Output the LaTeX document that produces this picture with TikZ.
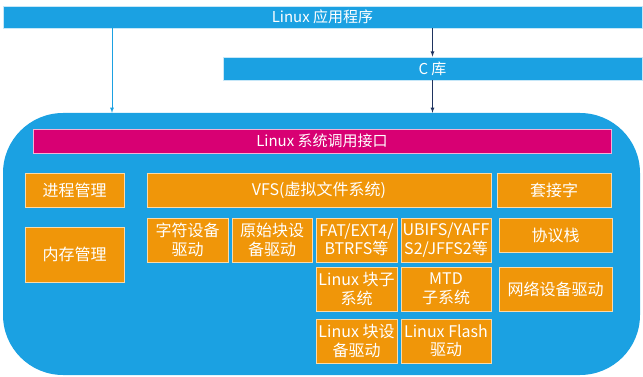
\documentclass[tikz,border=0pt]{standalone}
\usepackage{fontspec}
\setmainfont{Noto Sans CJK SC}
\usepackage{tikz}
\usetikzlibrary{arrows, positioning, calc}
\definecolor{metroblue}{RGB}{27, 161, 226}
\definecolor{syscallred}{RGB}{216, 0, 115}
\definecolor{modorange}{RGB}{240, 150, 9}
\definecolor{arrownavy}{RGB}{31, 52, 96}

\begin{document}
\begin{tikzpicture}[x=1pt, y=-1pt,
    bar/.style={rectangle, fill=metroblue, draw=white!75!metroblue, line width=0.8pt,
        inner sep=0pt, text=white, font=\fontsize{15}{17}\selectfont},
    kernelbox/.style={rectangle, fill=metroblue, rounded corners=60pt, inner sep=0pt},
    callbar/.style={rectangle, fill=syscallred, draw=white!70!syscallred, line width=0.8pt,
        inner sep=0pt, text=white, font=\fontsize{15}{17}\selectfont},
    modbox/.style={rectangle, fill=modorange, draw=white!65!modorange, line width=0.8pt,
        inner sep=0pt, align=center, text=white, font=\fontsize{16}{18.5}\selectfont},
    lightarrow/.style={-latex, metroblue, line width=0.8pt},
    darkarrow/.style={-latex, arrownavy, line width=0.8pt}]
    \useasboundingbox (0,0) rectangle (643,377);
    % USER SPACE
    \node[bar, minimum width=639, minimum height=22] (app) at (322.5,17) {Linux 应用程序};
    \node[bar, minimum width=419, minimum height=23] (clib) at (432.5,68.5) {C 库};
    % KERNEL
    \node[kernelbox, minimum width=637, minimum height=262] (kernel) at (321.5,244) {};
    \node[callbar, minimum width=578, minimum height=24] (syscall) at (322,141) {Linux 系统调用接口};
    % Left column
    \node[modbox, minimum width=99, minimum height=34] (proc) at (74.5,190) {进程管理};
    \node[modbox, minimum width=99, minimum height=55] (mem) at (74.5,254.5) {内存管理};
    % File systems
    \node[modbox, minimum width=344, minimum height=34] (vfs) at (319,190) {VFS(虚拟文件系统)};
    \node[modbox, minimum width=81, minimum height=44] (chrdrv) at (187.5,240) {字符设备\\驱动};
    \node[modbox, minimum width=80, minimum height=44] (rawdrv) at (272,240) {原始块设\\备驱动};
    \node[modbox, minimum width=81, minimum height=44] (fatfs) at (356.5,240) {FAT/EXT4/\\BTRFS等};
    \node[modbox, minimum width=90, minimum height=44] (flashfs) at (446,240) {UBIFS/YAFF\\S2/JFFS2等};
    \node[modbox, minimum width=81, minimum height=44] (blksub) at (356.5,289) {Linux 块子\\系统};
    \node[modbox, minimum width=90, minimum height=44] (mtdsub) at (446,289) {MTD\\子系统};
    \node[modbox, minimum width=81, minimum height=44] (blkdrv) at (356.5,341) {Linux 块设\\备驱动};
    \node[modbox, minimum width=90, minimum height=44] (flashdrv) at (446,341) {Linux Flash\\驱动};
    % Network
    \node[modbox, minimum width=114, minimum height=34] (socket) at (554,190) {套接字};
    \node[modbox, minimum width=113, minimum height=34] (proto) at (555.5,235) {协议栈};
    \node[modbox, minimum width=113, minimum height=44] (netdrv) at (555.5,289) {网络设备驱动};
    % CALLS
    \coordinate (direct) at (112,0);
    \draw[lightarrow] (app.south -| direct) -- (kernel.north -| direct);
    \draw[darkarrow] (app.south -| clib) -- (clib.north);
    \draw[darkarrow] (clib.south) -- (kernel.north -| clib);
\end{tikzpicture}
\end{document}
